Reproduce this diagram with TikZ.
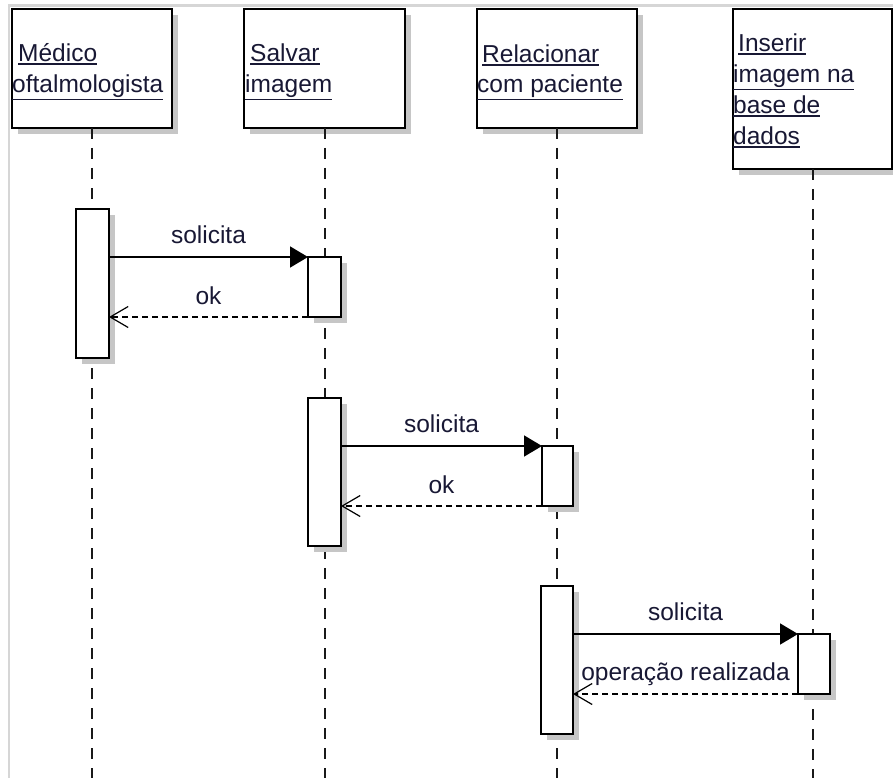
\documentclass[tikz,border=0pt]{standalone}
\usepackage{fontspec}
\setmainfont{Liberation Sans}
\usetikzlibrary{arrows.meta,shadows}
\definecolor{ink}{RGB}{24,24,52}
\definecolor{shade}{RGB}{198,198,198}
\definecolor{frameline}{RGB}{214,214,214}
% underlined participant name with a heavier rule close to the text
\newcommand{\objname}[1]{\leavevmode\vtop{\hbox{#1}\kern1pt\hrule height 1.4pt}}
\tikzset{
  objbox/.style={draw=black, line width=1.6pt, fill=white, inner sep=0pt, outer sep=0pt,
    drop shadow={shadow xshift=6pt, shadow yshift=-6pt, fill=shade, opacity=1}},
  actbox/.style={objbox, minimum width=33pt},
  lifeline/.style={draw=black!90, line width=2pt, dash pattern=on 11pt off 9pt},
  objtext/.style={anchor=base west, inner sep=0pt, text=ink, font=\fontsize{24.5}{31}\selectfont},
  msglabel/.style={anchor=base, inner sep=0pt, text=ink, font=\fontsize{24.5}{31}\selectfont, yshift=14pt},
  call/.style={line width=1.6pt, -{Triangle[length=18pt,width=21pt]}},
  reply/.style={line width=1.4pt, dash pattern=on 6pt off 4pt,
    -{Straight Barb[length=18pt,width=21pt,line width=1.2pt]}}
}
\begin{document}
\begin{tikzpicture}[x=1pt,y=-1pt]
\useasboundingbox (0,0) rectangle (893,778);

% outer frame
\draw[frameline, line width=2.5pt] (9,778) -- (9,5.5) -- (893,5.5);

% participants
\node[objbox, minimum width=160pt, minimum height=119pt, anchor=north west] (p1) at (12,9) {};
\node[objbox, minimum width=161pt, minimum height=119pt, anchor=north west] (p2) at (244,9) {};
\node[objbox, minimum width=160pt, minimum height=119pt, anchor=north west] (p3) at (477,9) {};
\node[objbox, minimum width=159pt, minimum height=160pt, anchor=north west] (p4) at (733,9) {};

\node[objtext] (p1a) at (18,62) {\objname{Médico}};
\node[objtext] (p1b) at (12,93) {\objname{oftalmologista}};
\node[objtext] (p2a) at (250,62) {\objname{Salvar}};
\node[objtext] (p2b) at (245,93) {\objname{imagem}};
\node[objtext] (p3a) at (482,63) {\objname{Relacionar}};
\node[objtext] (p3b) at (477,93) {\objname{com paciente}};
\node[objtext] (p4a) at (738,52) {\objname{Inserir}};
\node[objtext] (p4b) at (733,83) {\objname{imagem na}};
\node[objtext] (p4c) at (733,114) {\objname{base de}};
\node[objtext] (p4d) at (733,145) {\objname{dados}};

% lifelines
\coordinate (e1) at (92,780);
\coordinate (e2) at (324.5,780);
\coordinate (e3) at (557,780);
\coordinate (e4) at (812.5,780);
\draw[lifeline] (p1.south) -- (e1);
\draw[lifeline] (p2.south) -- (e2);
\draw[lifeline] (p3.south) -- (e3);
\draw[lifeline] (p4.south) -- (e4);

% activations
\node[actbox, minimum height=149pt, anchor=north] (a1) at (92.5,209) {};
\node[actbox, minimum height=60pt, anchor=north] (a2) at (324.5,257) {};
\node[actbox, minimum height=148pt, anchor=north] (a3) at (324.5,398) {};
\node[actbox, minimum width=31pt, minimum height=60pt, anchor=north] (a4) at (557.5,446) {};
\node[actbox, minimum width=32pt, minimum height=148pt, anchor=north] (a5) at (557,586) {};
\node[actbox, minimum width=32pt, minimum height=60pt, anchor=north] (a6) at (814,634) {};

% messages
\draw[call] (a2.north west -| a1.east) -- node[msglabel] {solicita} (a2.north west);
\draw[reply] (a2.south west) -- node[msglabel, yshift=-1pt] {ok} (a2.south west -| a1.east);
\draw[call] (a4.north west -| a3.east) -- node[msglabel] {solicita} (a4.north west);
\draw[reply] (a4.south west) -- node[msglabel, yshift=-1pt] {ok} (a4.south west -| a3.east);
\draw[call] (a6.north west -| a5.east) -- node[msglabel] {solicita} (a6.north west);
\draw[reply] (a6.south west) -- node[msglabel] {operação realizada} (a6.south west -| a5.east);
\end{tikzpicture}
\end{document}
